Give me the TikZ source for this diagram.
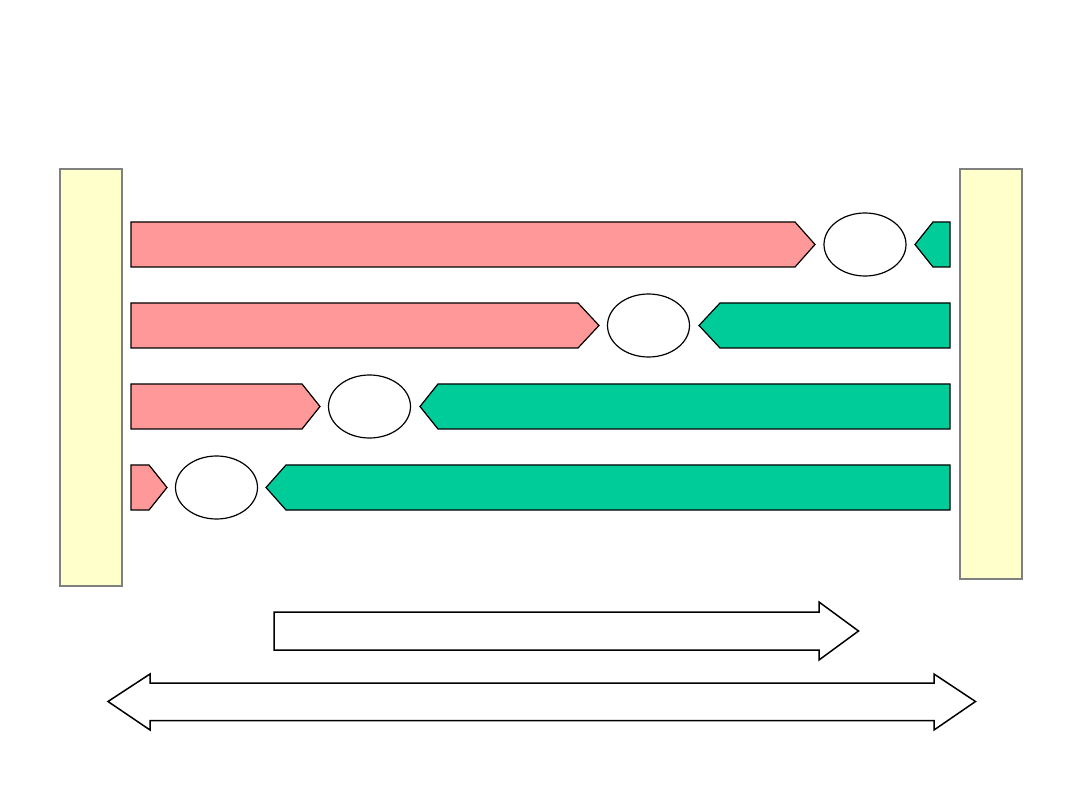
\documentclass[tikz,border=0pt]{standalone}
\definecolor{pinkfill}{HTML}{FF9999}
\definecolor{greenfill}{HTML}{00CC99}
\definecolor{yellowfill}{HTML}{FFFFCC}
\definecolor{bargray}{HTML}{808080}
\tikzset{
  wall/.style={fill=yellowfill,draw=bargray,line width=1.2pt},
  pinkarrow/.style={fill=pinkfill,draw=black,line width=1.2pt,line join=miter},
  greenarrow/.style={fill=greenfill,draw=black,line width=1.2pt,line join=miter},
  gap/.style={fill=white,draw=black,line width=1.2pt},
  bigarrow/.style={fill=white,draw=black,line width=1.5pt,line join=miter}
}
\begin{document}
\begin{tikzpicture}[x=1pt,y=-1pt]
\useasboundingbox (0,0) rectangle (1080,810);
% walls
\draw[wall] (60,169) rectangle (122,586);
\draw[wall] (960,169) rectangle (1022,579);
% row 1
\draw[pinkarrow] (131,222) -- (795,222) -- (815,244.5) -- (795,267) -- (131,267) -- cycle;
\draw[gap] (865,244.5) ellipse [x radius=41,y radius=31.5];
\draw[greenarrow] (950,222) -- (933,222) -- (915,244.5) -- (933,267) -- (950,267) -- cycle;
% row 2
\draw[pinkarrow] (131,303) -- (578,303) -- (599,325.5) -- (578,348) -- (131,348) -- cycle;
\draw[gap] (648.5,325.5) ellipse [x radius=41,y radius=31.5];
\draw[greenarrow] (950,303) -- (720,303) -- (699,325.5) -- (720,348) -- (950,348) -- cycle;
% row 3
\draw[pinkarrow] (131,384) -- (302,384) -- (320,406.5) -- (302,429) -- (131,429) -- cycle;
\draw[gap] (369.5,406.5) ellipse [x radius=41,y radius=31.5];
\draw[greenarrow] (950,384) -- (438,384) -- (420,406.5) -- (438,429) -- (950,429) -- cycle;
% row 4
\draw[pinkarrow] (131,465) -- (149,465) -- (167,487.5) -- (149,510) -- (131,510) -- cycle;
\draw[gap] (216.5,487.5) ellipse [x radius=41,y radius=31.5];
\draw[greenarrow] (950,465) -- (286,465) -- (266,487.5) -- (286,510) -- (950,510) -- cycle;
% single arrow
\draw[bigarrow] (274,612) -- (819,612) -- (819,602) -- (858.5,631) -- (819,660) -- (819,650) -- (274,650) -- cycle;
% double arrow
\draw[bigarrow] (108,701.5) -- (150,674) -- (150,683) -- (934,683) -- (934,674) -- (975.5,701.5) -- (934,730) -- (934,720.5) -- (150,720.5) -- (150,730) -- cycle;
\end{tikzpicture}
\end{document}
